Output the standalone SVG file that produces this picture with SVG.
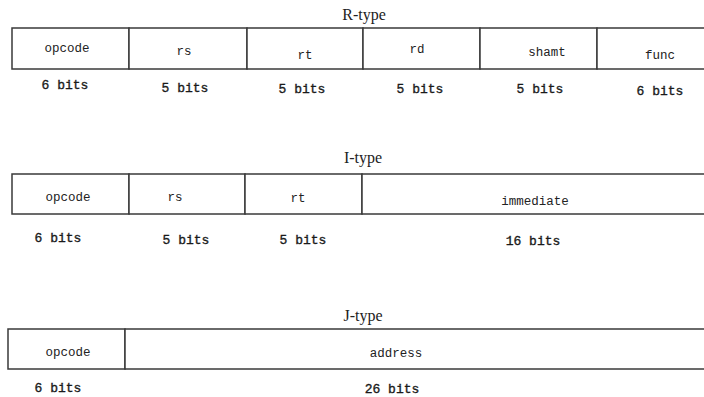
<svg xmlns="http://www.w3.org/2000/svg" width="704" height="397" viewBox="0 0 704 397">
<style>
.bg{fill:#fff}
.cell{fill:#fff;stroke:#3a3a3a;stroke-width:1.5}
.lbl{font-family:"Liberation Mono",monospace;font-size:12.5px;fill:#222;text-anchor:middle}
.bits{font-family:"Liberation Mono",monospace;font-size:13px;fill:#1a1a1a;stroke:#1a1a1a;stroke-width:0.35;text-anchor:middle}
.title{font-family:"Liberation Serif",serif;font-size:16px;fill:#222;text-anchor:middle}
</style>
<rect class="bg" x="0" y="0" width="704" height="397"/>
<g id="r-type">
  <text class="title" x="364" y="20">R-type</text>
  <g id="r-opcode"><rect class="cell" x="12" y="28" width="117" height="41"/><text class="lbl" x="67" y="52">opcode</text><text class="bits" x="65" y="89">6 bits</text></g>
  <g id="r-rs"><rect class="cell" x="129" y="28" width="118" height="41"/><text class="lbl" x="184" y="55">rs</text><text class="bits" x="185" y="92">5 bits</text></g>
  <g id="r-rt"><rect class="cell" x="247" y="28" width="116" height="41"/><text class="lbl" x="305" y="59">rt</text><text class="bits" x="302" y="93">5 bits</text></g>
  <g id="r-rd"><rect class="cell" x="363" y="28" width="117" height="41"/><text class="lbl" x="417" y="53">rd</text><text class="bits" x="420" y="93">5 bits</text></g>
  <g id="r-shamt"><rect class="cell" x="480" y="28" width="117" height="41"/><text class="lbl" x="547" y="56">shamt</text><text class="bits" x="540" y="93">5 bits</text></g>
  <g id="r-func"><rect class="cell" x="597" y="28" width="110" height="41"/><text class="lbl" x="660" y="59">func</text><text class="bits" x="660" y="95">6 bits</text></g>
</g>
<g id="i-type">
  <text class="title" x="363" y="163">I-type</text>
  <g id="i-opcode"><rect class="cell" x="12" y="174" width="117" height="40"/><text class="lbl" x="68" y="201">opcode</text><text class="bits" x="58" y="242">6 bits</text></g>
  <g id="i-rs"><rect class="cell" x="129" y="174" width="116" height="40"/><text class="lbl" x="175" y="201">rs</text><text class="bits" x="186" y="244">5 bits</text></g>
  <g id="i-rt"><rect class="cell" x="245" y="174" width="117" height="40"/><text class="lbl" x="298" y="202">rt</text><text class="bits" x="303" y="244">5 bits</text></g>
  <g id="i-immediate"><rect class="cell" x="362" y="174" width="345" height="40"/><text class="lbl" x="535" y="205">immediate</text><text class="bits" x="533" y="245">16 bits</text></g>
</g>
<g id="j-type">
  <text class="title" x="363" y="321">J-type</text>
  <g id="j-opcode"><rect class="cell" x="8" y="329" width="117" height="40"/><text class="lbl" x="68" y="356">opcode</text><text class="bits" x="58" y="392">6 bits</text></g>
  <g id="j-address"><rect class="cell" x="125" y="329" width="582" height="40"/><text class="lbl" x="396" y="357">address</text><text class="bits" x="392" y="393">26 bits</text></g>
</g>
<g id="connectors"/>
</svg>
